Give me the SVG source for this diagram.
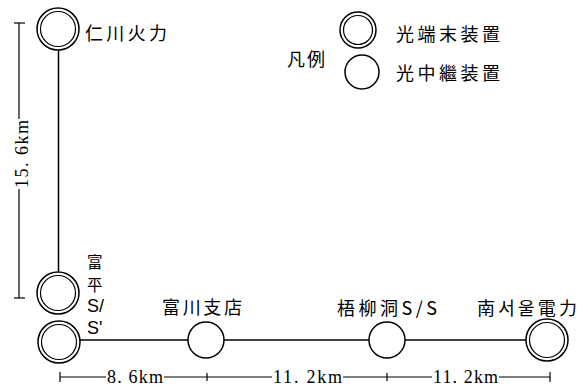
<svg xmlns="http://www.w3.org/2000/svg" width="588" height="388" viewBox="0 0 588 388">
<style>
.bg{fill:#fff}
.i{fill:none;stroke:#000;stroke-width:1.2}
.s{fill:#fff;stroke:#000;stroke-width:1.5}
.ln{stroke:#000;stroke-width:1.5;fill:none}
.dim{stroke:#000;stroke-width:1.2;fill:none}
.t{font-family:"Noto Sans CJK KR","Noto Sans CJK JP",sans-serif;font-size:18px;fill:#000;dominant-baseline:central}
.v{font-family:"Noto Sans CJK KR","Noto Sans CJK JP",sans-serif;font-size:15.5px;fill:#000;dominant-baseline:central}
.vs{font-family:"Liberation Sans",sans-serif;font-size:18px;fill:#000;dominant-baseline:central}
.n{font-family:"Liberation Serif",serif;font-size:18px;fill:#000;dominant-baseline:central}
</style>
<rect class="bg" x="0" y="0" width="588" height="388"/>
<g id="connectors">
<line class="ln" x1="58.5" y1="50" x2="58.5" y2="272"/>
<line class="ln" x1="80" y1="340" x2="526" y2="340"/>
</g>
<g id="dimensions">
<line class="dim" x1="19" y1="23" x2="19" y2="119"/>
<line class="dim" x1="19" y1="189" x2="19" y2="298"/>
<line class="dim" x1="14" y1="23" x2="25" y2="23"/>
<line class="dim" x1="14" y1="298" x2="25" y2="298"/>
<text class="n" transform="translate(22,154) rotate(-90)" text-anchor="middle" textLength="68" lengthAdjust="spacing">15. 6km</text>
<line class="dim" x1="60" y1="377" x2="106" y2="377"/>
<line class="dim" x1="164" y1="377" x2="272" y2="377"/>
<line class="dim" x1="343" y1="377" x2="432" y2="377"/>
<line class="dim" x1="499" y1="377" x2="550" y2="377"/>
<line class="dim" x1="60" y1="372" x2="60" y2="382"/>
<line class="dim" x1="207" y1="373" x2="207" y2="381"/>
<line class="dim" x1="387" y1="373" x2="387" y2="381"/>
<line class="dim" x1="550" y1="372" x2="550" y2="382"/>
<text class="n" x="107" y="377" textLength="56" lengthAdjust="spacing">8. 6km</text>
<text class="n" x="273" y="377" textLength="69" lengthAdjust="spacing">11. 2km</text>
<text class="n" x="433" y="377" textLength="65" lengthAdjust="spacing">11. 2km</text>
</g>
<g id="incheon">
<circle class="s" cx="58" cy="29" r="21"/>
<circle class="i" cx="58" cy="29" r="17.5"/>
<text class="t" x="85" y="32" textLength="82" lengthAdjust="spacing">仁川火力</text>
</g>
<g id="bupyeong">
<circle class="s" cx="58" cy="293" r="21"/>
<circle class="i" cx="58" cy="293" r="17.5"/>
<circle class="s" cx="59" cy="342" r="21"/>
<circle class="i" cx="59" cy="342" r="17.5"/>
<text class="v" x="87" y="261">富</text>
<text class="v" x="87" y="284">平</text>
<text class="vs" x="87" y="306">S/</text>
<text class="vs" x="87" y="328">S'</text>
</g>
<g id="bucheon">
<circle class="s" cx="206" cy="340" r="18"/>
<text class="t" x="162" y="306" textLength="80" lengthAdjust="spacing">富川支店</text>
</g>
<g id="oryudong">
<circle class="s" cx="387" cy="340" r="18"/>
<text class="t" x="337" y="307" textLength="100" lengthAdjust="spacing">梧柳洞S/S</text>
</g>
<g id="namseoul">
<circle class="s" cx="547" cy="340" r="21"/>
<circle class="i" cx="547" cy="340" r="17.5"/>
<text class="t" x="477" y="307" textLength="100" lengthAdjust="spacing">南서울電力</text>
</g>
<g id="legend">
<text class="t" x="287" y="58" textLength="38" lengthAdjust="spacing">凡例</text>
<circle class="s" cx="358" cy="30" r="18"/>
<circle class="i" cx="358" cy="30" r="14.5"/>
<text class="t" x="396" y="33" textLength="104" lengthAdjust="spacing">光端末装置</text>
<circle class="s" cx="362" cy="72" r="17"/>
<text class="t" x="396" y="72" textLength="104" lengthAdjust="spacing">光中繼装置</text>
</g>
</svg>
